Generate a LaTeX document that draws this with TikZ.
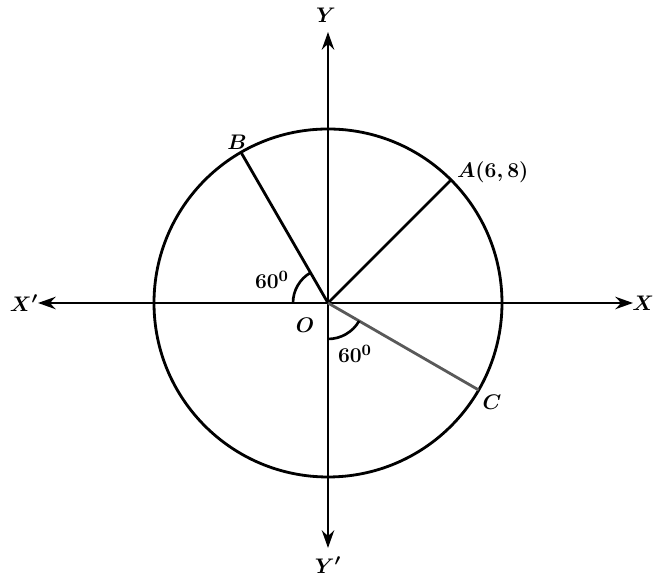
\documentclass[tikz,border=0pt]{standalone}
\usepackage{amsmath}
\usepackage{tikz}
\usetikzlibrary{arrows.meta, calc}

\tikzset{
  axisline/.style={line width=1.6pt, -{Stealth[length=10pt, width=7pt]}},
  radline/.style={line width=1.6pt},
  anglemark/.style={line width=1.5pt},
  lbl/.style={font=\fontsize{12.5pt}{15pt}\selectfont, inner sep=1pt}
}

\begin{document}
\begin{tikzpicture}
  \useasboundingbox (-6.56, -5.5) rectangle (6.54, 6.06);
  % Centre and axis ends
  \coordinate (O) at (0, 0);
  \coordinate (Xr) at (6.1, 0);
  \coordinate (Xl) at (-5.8, 0);
  \coordinate (Yt) at (0, 5.42);
  \coordinate (Yb) at (0, -4.9);
  % Points on the circle
  \coordinate (A) at (45:3.48);
  \coordinate (B) at (120:3.48);
  \coordinate (C) at (-30:3.48);
  % Circle
  \draw[radline] (O) circle (3.48);
  % Axes
  \draw[axisline] (O) -- (Xr);
  \draw[axisline] (O) -- (Xl);
  \draw[axisline] (O) -- (Yt);
  \draw[axisline] (O) -- (Yb);
  % Radii
  \draw[radline] (O) -- (A);
  \draw[radline] (O) -- (B);
  \draw[radline, black!65] (O) -- (C);
  % Angle marks
  \draw[anglemark] (120:0.7) arc (120:180:0.7);
  \draw[anglemark] (270:0.72) arc (270:330:0.72);
  % Axis labels
  \node[lbl, anchor=east] (lX) at (6.56, 0) {$\boldsymbol{X}$};
  \node[lbl] (lXp) at (-6.08, 0) {$\boldsymbol{X'}$};
  \node[lbl] (lY) at (-0.04, 5.76) {$\boldsymbol{Y}$};
  \node[lbl] (lYp) at (0, -5.24) {$\boldsymbol{Y'}$};
  % Point labels
  \node[lbl] (lO) at (-0.46, -0.44) {$\boldsymbol{O}$};
  \node[lbl, anchor=west] (lA) at (2.54, 2.62) {$\boldsymbol{A(6,8)}$};
  \node[lbl] (lB) at (-1.82, 3.22) {$\boldsymbol{B}$};
  \node[lbl] (lC) at (3.28, -1.98) {$\boldsymbol{C}$};
  % Angle labels
  \node[lbl] (aB) at (-1.12, 0.46) {$\boldsymbol{60^0}$};
  \node[lbl] (aC) at (0.54, -1.02) {$\boldsymbol{60^0}$};
\end{tikzpicture}
\end{document}
